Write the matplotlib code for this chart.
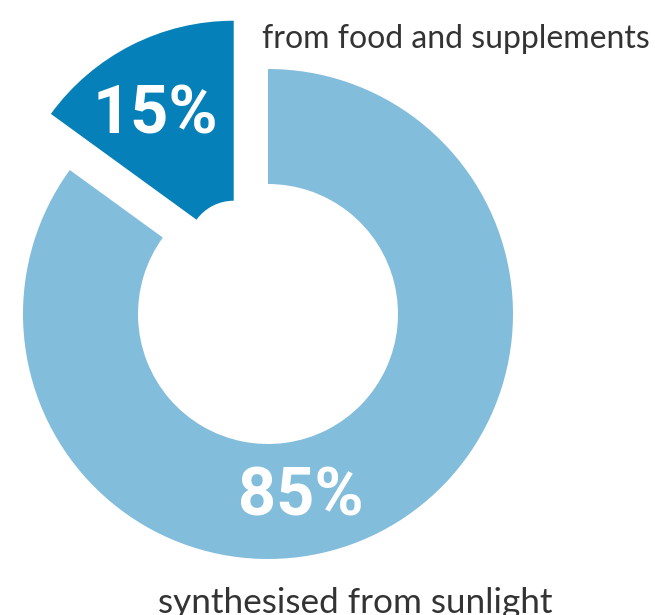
import matplotlib
matplotlib.use("Agg")
import matplotlib.pyplot as plt

# share of vitamin D by source
sources = ["synthesised from sunlight", "from food and supplements"]
shares = [85, 15]
colors = ["#82BDDC", "#0580B8"]

fig = plt.figure(figsize=(6.55, 6.15), dpi=100)
ax = fig.add_axes([0, 0, 1, 1])
ax.set_xlim(0, 655)
ax.set_ylim(0, 615)
ax.set_aspect("equal")
ax.axis("off")

ctr = (268, 301)

# big ring: only the 85% part is visible
ax.pie(shares, colors=[colors[0], "none"], startangle=90, counterclock=False,
       radius=245, center=ctr, wedgeprops=dict(width=115, linewidth=0))

# the 15% wedge, pulled out and drawn thicker (explode is in data units here)
ax.pie(shares, colors=["none", colors[1]], startangle=90, counterclock=False,
       radius=226, center=ctr, explode=[0, 75.5],
       wedgeprops=dict(width=180, linewidth=0))

ax.set_xlim(0, 655)
ax.set_ylim(0, 615)

big = dict(color="white", fontsize=48, fontweight="bold", family="Roboto",
           ha="center", va="baseline")
ax.text(155, 482, "%d%%" % shares[1], **big)
ax.text(301, 100, "%d%%" % shares[0], **big)

ax.text(262, 567, sources[1], fontsize=23, color="#333333", family="Lato",
        ha="left", va="baseline")
ax.text(355, 2, sources[0], fontsize=25.3, color="#333333", family="Lato",
        ha="center", va="baseline")

fig.savefig("out.png", dpi=100)
